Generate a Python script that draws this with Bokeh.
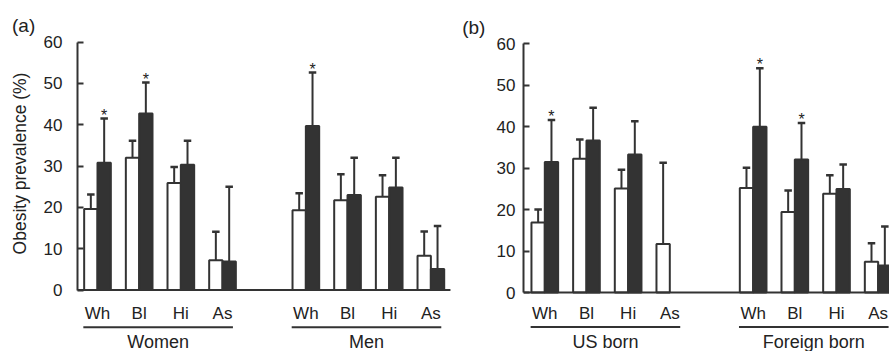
import math
from bokeh.plotting import figure
from bokeh.layouts import row
from bokeh.models import Range1d, FixedTicker
from bokeh.core.properties import value
from bokeh.embed import file_html
from bokeh.resources import INLINE

# ---------------- data ----------------
categories = ["Wh", "Bl", "Hi", "As"]
y_ticks = [0, 10, 20, 30, 40, 50, 60]
y_label = "Obesity prevalence (%)"
panel_tags = ["(a)", "(b)"]

# panel (a): sex
a_groups = ["Women", "Men"]
women_white = [19.6, 32.0, 25.9, 7.2]
women_white_upper = [23.1, 36.1, 29.8, 14.1]
women_black = [30.8, 42.7, 30.3, 6.9]
women_black_upper = [41.5, 50.2, 36.1, 25.0]
women_black_sig = [True, True, False, False]
men_white = [19.3, 21.7, 22.6, 8.3]
men_white_upper = [23.4, 28.0, 27.8, 14.2]
men_black = [39.7, 23.0, 24.8, 5.1]
men_black_upper = [52.6, 32.0, 32.0, 15.5]
men_black_sig = [True, False, False, False]

# panel (b): nativity
b_groups = ["US born", "Foreign born"]
us_white = [16.9, 32.3, 25.1, 11.7]
us_white_upper = [20.0, 36.9, 29.6, 31.3]
us_black = [31.5, 36.7, 33.3, None]
us_black_upper = [41.6, 44.6, 41.3, None]
us_black_sig = [True, False, False, False]
fb_white = [25.2, 19.4, 23.8, 7.4]
fb_white_upper = [30.1, 24.6, 28.3, 11.9]
fb_black = [40.0, 32.1, 25.0, 6.5]
fb_black_upper = [54.1, 40.9, 30.9, 15.9]
fb_black_sig = [True, True, False, False]

# ---------------- style ----------------
FONT = "Liberation Sans"
DARK = "#333333"
TEXT = "#222222"
BAR_W = 0.32
CAP = 0.09
H = 351


def panel(groups, whites, white_ups, blacks, black_ups, sigs,
          width, x_range, y_range, border_left, label_standoff,
          lab_y, line_y, grp_y, base_end, extra_tag=None):
    p = figure(width=width, height=H, output_backend="svg", toolbar_location=None,
               x_range=Range1d(*x_range), y_range=Range1d(*y_range),
               x_axis_location=None, min_border_left=border_left,
               min_border_right=0, min_border_top=0, min_border_bottom=0,
               background_fill_color="white", border_fill_color="white")
    p.outline_line_color = None
    p.grid.visible = False

    ax = p.yaxis[0]
    ax.ticker = FixedTicker(ticks=y_ticks)
    ax.bounds = (0, 60)
    ax.minor_tick_line_color = None
    ax.major_tick_in = 6
    ax.major_tick_out = 0
    ax.major_tick_line_width = 2
    ax.major_tick_line_color = DARK
    ax.axis_line_width = 2
    ax.axis_line_color = DARK
    ax.major_label_text_font = FONT
    ax.major_label_text_font_size = "17px"
    ax.major_label_text_color = TEXT
    ax.major_label_standoff = label_standoff

    wx, wv, wu, bx, bv, bu, sx, sy = [], [], [], [], [], [], [], []
    lab_x, lab_t = [], []
    for g in range(len(groups)):
        for i, c in enumerate(categories):
            slot = 5 * g + i
            lab_x.append(slot)
            lab_t.append(c)
            if whites[g][i] is not None:
                wx.append(slot - BAR_W / 2)
                wv.append(whites[g][i])
                wu.append(white_ups[g][i])
            if blacks[g][i] is not None:
                bx.append(slot + BAR_W / 2)
                bv.append(blacks[g][i])
                bu.append(black_ups[g][i])
                if sigs[g][i]:
                    sx.append(slot + BAR_W / 2)
                    sy.append(black_ups[g][i] + 0.8)

    for xs, vs, us, fill in ((wx, wv, wu, "white"), (bx, bv, bu, DARK)):
        p.segment(x0=xs, y0=vs, x1=xs, y1=us, line_color=DARK, line_width=2)
        p.segment(x0=[x - CAP for x in xs], y0=us, x1=[x + CAP for x in xs], y1=us,
                  line_color=DARK, line_width=2.5)
        p.vbar(x=xs, top=vs, bottom=0, width=BAR_W, fill_color=fill,
               line_color=DARK, line_width=2)

    p.text(x=sx, y=sy, text=["*"] * len(sx), text_font=value(FONT),
           text_font_size="16px", text_align="center", text_baseline="middle",
           text_color=TEXT)

    # baseline (zero line)
    p.segment(x0=[x_range[0]], y0=[0], x1=[base_end], y1=[0], line_color=DARK,
              line_width=2)

    # category labels, group underlines, group names
    p.text(x=lab_x, y=[lab_y] * len(lab_x), text=lab_t, text_font=value(FONT),
           text_font_size="17px", text_align="center", text_baseline="middle",
           text_color=TEXT)
    gx0 = [5 * g - 0.34 for g in range(len(groups))]
    gx1 = [5 * g + 3.25 for g in range(len(groups))]
    p.segment(x0=gx0, y0=[line_y] * len(groups), x1=gx1, y1=[line_y] * len(groups),
              line_color=DARK, line_width=2)
    p.text(x=[(a + b) / 2 for a, b in zip(gx0, gx1)], y=[grp_y] * len(groups),
           text=groups, text_font=value(FONT), text_font_size="18px",
           text_align="center", text_baseline="middle", text_color=TEXT)

    if extra_tag is not None:
        tx, ty, tt = extra_tag
        p.text(x=[tx], y=[ty], text=[tt], text_font=value(FONT), text_font_size="19px",
               text_align="left", text_baseline="middle", text_color=TEXT)
    return p


# left strip holding the panel tag "(a)" and the y axis title
strip = figure(width=40, height=H, output_backend="svg", toolbar_location=None,
               x_range=Range1d(0, 40), y_range=Range1d(0, H),
               x_axis_location=None, y_axis_location=None,
               min_border_left=0, min_border_right=0, min_border_top=0,
               min_border_bottom=0, background_fill_color="white",
               border_fill_color="white")
strip.outline_line_color = None
strip.grid.visible = False
strip.text(x=[11.5], y=[H - 25.3], text=[panel_tags[0]], text_font=value(FONT),
           text_font_size="19px", text_align="left", text_baseline="middle",
           text_color=TEXT)
strip.text(x=[19.5], y=[H - 163], text=[y_label], angle=math.pi / 2,
           text_font=value(FONT), text_font_size="17.5px", text_align="center",
           text_baseline="middle", text_color=TEXT)

# pixel geometry -> data units (41.67 px per slot, ~4.14 px per %)
pa = panel(a_groups,
           [women_white, men_white], [women_white_upper, men_white_upper],
           [women_black, men_black], [women_black_upper, men_black_upper],
           [women_black_sig, men_black_sig],
           width=452, x_range=(-0.48, 9.479), y_range=(-14.85, 70.04),
           border_left=37, label_standoff=15,
           lab_y=-5.63, line_y=-8.97, grp_y=-12.6, base_end=8.47,
           extra_tag=(8.752, 63.6, panel_tags[1]))

pb = panel(b_groups,
           [us_white, fb_white], [us_white_upper, fb_white_upper],
           [us_black, fb_black], [us_black_upper, fb_black_upper],
           [us_black_sig, fb_black_sig],
           width=397, x_range=(-0.511, 8.272), y_range=(-14.23, 70.45),
           border_left=31, label_standoff=8,
           lab_y=-4.95, line_y=-8.32, grp_y=-12.0, base_end=8.272)

layout = row(strip, pa, pb)
open("out.html", "w").write(file_html(layout, INLINE))
